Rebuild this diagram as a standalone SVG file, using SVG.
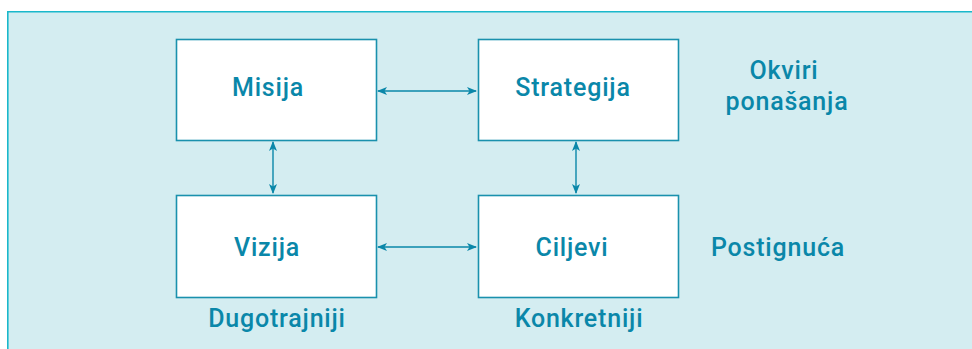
<svg xmlns="http://www.w3.org/2000/svg" width="972" height="349" viewBox="0 0 972 349">
<defs>
<style>
.bg{fill:#d4edf1;stroke:none}
.edge{stroke:#1ab8cb;stroke-width:1.6;fill:none}
.box{fill:#ffffff;stroke:#1a91ad;stroke-width:1.6}
.t{font-family:Roboto,"Liberation Sans",sans-serif;font-weight:500;font-size:25px;letter-spacing:0.8px;fill:#0a87a9;text-anchor:middle}
.c{stroke:#0a87a9;stroke-width:1.4;fill:none;marker-start:url(#a);marker-end:url(#a)}
</style>
<marker id="a" viewBox="0 0 10 8" refX="9" refY="4" markerWidth="10" markerHeight="8" markerUnits="userSpaceOnUse" orient="auto-start-reverse">
<path d="M0,0 L10,4 L0,8 L2.5,4 Z" fill="#0a87a9"/>
</marker>
</defs>
<rect class="bg" x="7.5" y="11.5" width="965" height="338"/>
<path class="edge" d="M7.8,349 V11.8 H972"/>
<g id="connectors">
<line class="c" x1="378" y1="91" x2="476" y2="91"/>
<line class="c" x1="378" y1="247" x2="476" y2="247"/>
<line class="c" x1="273" y1="142" x2="273" y2="193"/>
<line class="c" x1="576" y1="142" x2="576" y2="193"/>
</g>
<g id="misija"><rect class="box" x="176.5" y="39.5" width="200" height="101"/><text class="t" x="268" y="96">Misija</text></g>
<g id="strategija"><rect class="box" x="478.5" y="39.5" width="200" height="101"/><text class="t" x="573" y="96">Strategija</text></g>
<g id="vizija"><rect class="box" x="176.5" y="195.5" width="200" height="102"/><text class="t" x="267" y="256">Vizija</text></g>
<g id="ciljevi"><rect class="box" x="478.5" y="195.5" width="200" height="102"/><text class="t" x="572" y="256">Ciljevi</text></g>
<g id="labels">
<text class="t" x="784" y="79">Okviri</text>
<text class="t" x="787" y="110">ponašanja</text>
<text class="t" x="778" y="256">Postignuća</text>
<text class="t" x="277" y="327">Dugotrajniji</text>
<text class="t" x="579" y="327">Konkretniji</text>
</g>
</svg>
